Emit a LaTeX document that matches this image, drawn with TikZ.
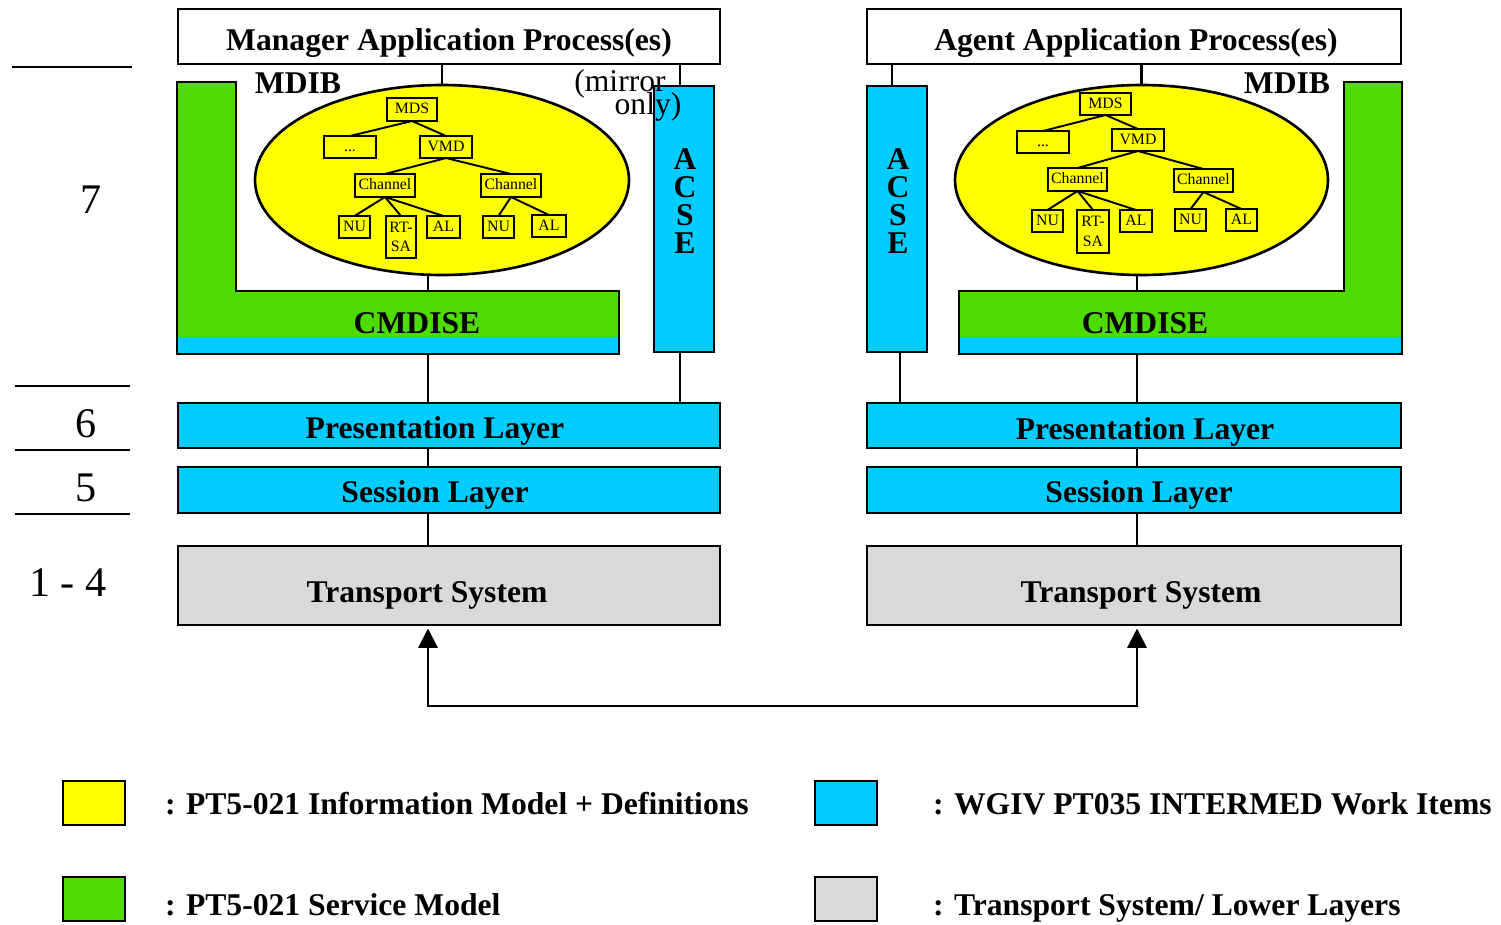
\documentclass[tikz,border=0pt]{standalone}
\usepackage{fontspec}
\setmainfont{Liberation Serif}
\usepackage{tikz}
\usetikzlibrary{shapes.geometric,arrows.meta}
\definecolor{layercyan}{HTML}{00CCFF}
\definecolor{mdibyellow}{HTML}{FFFF00}
\definecolor{svcgreen}{HTML}{4DDB00}
\definecolor{transgray}{HTML}{D9D9D9}

\begin{document}
\begin{tikzpicture}[x=0.02cm, y=-0.02cm,
  every node/.style={inner sep=0pt, outer sep=0pt},
  bw/.style={minimum width=#1*0.02cm}, bh/.style={minimum height=#1*0.02cm},
  bold18/.style={font=\fontsize{18}{16}\selectfont\bfseries},
  big/.style={bold18, text height=12pt, text depth=0pt},
  layer/.style={draw=black, line width=1.2pt},
  obj/.style={draw=black, line width=1.1pt, fill=mdibyellow, font=\fontsize{9}{11}\selectfont,
    text height=6.5pt, text depth=1.5pt},
  mdib/.style={ellipse, draw=black, line width=1.5pt, fill=mdibyellow},
  wire/.style={line width=1.2pt},
  branch/.style={line width=1.1pt},
  numlbl/.style={font=\fontsize{24}{24}\selectfont}]
  \useasboundingbox (0,0) rectangle (1501,924);

  % layer numbers
  \draw[line width=1.2pt] (12,67) -- (132,67);
  \draw[line width=1.2pt] (15,386) -- (130,386);
  \draw[line width=1.2pt] (15,450) -- (130,450);
  \draw[line width=1.2pt] (15,514) -- (130,514);
  \node[numlbl] (lay7) at (91,200) {7};
  \node[numlbl] (lay6) at (86,424) {6};
  \node[numlbl] (lay5) at (86,488) {5};
  \node[numlbl] (lay14) at (68,583) {1 - 4};

  % manager side
  \node[layer, bw=542, bh=55] (mgr) at (449,36.5) {};
  \node[big] (mgrtxt) at (449,40) {Manager Application Process(es)};
  \fill[svcgreen] (177,82) -- (236,82) -- (236,291) -- (619,291) -- (619,354) -- (177,354) -- cycle;
  \fill[layercyan] (177,337) rectangle (619,354);
  \draw[line width=1.3pt] (177,82) -- (236,82) -- (236,291) -- (619,291) -- (619,354) -- (177,354) -- cycle;
  \coordinate (cmdLtop) at (428,291);
  \coordinate (cmdLbot) at (428,354);
  \node[big] (cmdL) at (417,323) {CMDISE};
  \node[big] (mdibL) at (298,83) {MDIB};
  \node[mdib, bw=374, bh=190] (ellL) at (442,180) {};
  \node[layer, fill=layercyan, bw=60, bh=266] (acseL) at (684,219) {};
  \node[bold18, align=center] (acseLtxt) at (685,201) {A\\C\\S\\E};
  \node[font=\fontsize{18}{16}\selectfont] (mirL1) at (620,84) {(mirror};
  \node[font=\fontsize{18}{16}\selectfont] (mirL2) at (648,107) {only)};

  \node[obj, bw=50, bh=23] (mdsL) at (412,109.5) {MDS};
  \node[obj, bw=52, bh=22] (dotsL) at (350,147) {...};
  \node[obj, bw=52, bh=22] (vmdL) at (446,147) {VMD};
  \node[obj, bw=60, bh=23] (chL1) at (385,185.5) {Channel};
  \node[obj, bw=60, bh=23] (chL2) at (511,185.5) {Channel};
  \node[obj, bw=31, bh=22] (nuL1) at (354.5,227) {NU};
  \node[obj, bw=30, bh=42, align=center, text height=, text depth=] (rtL) at (401,237) {RT-\\SA};
  \node[obj, bw=33, bh=22] (alL1) at (443.5,227) {AL};
  \node[obj, bw=31, bh=22] (nuL2) at (498.5,227) {NU};
  \node[obj, bw=34, bh=22] (alL2) at (549,226) {AL};
  \draw[branch] (mdsL.south) -- (dotsL.north);
  \draw[branch] (mdsL.south) -- (vmdL.north);
  \draw[branch] (vmdL.south) -- (chL1.north);
  \draw[branch] (vmdL.south) -- (chL2.north);
  \draw[branch] (chL1.south) -- (nuL1.north);
  \draw[branch] (chL1.south) -- (rtL.north);
  \draw[branch] (chL1.south) -- (alL1.north);
  \draw[branch] (chL2.south) -- (nuL2.north);
  \draw[branch] (chL2.south) -- (alL2.north);

  \node[layer, fill=layercyan, bw=542, bh=45] (presL) at (449,425.5) {};
  \node[big] (presLtxt) at (435,428) {Presentation Layer};
  \node[layer, fill=layercyan, bw=542, bh=46] (sessL) at (449,490) {};
  \node[big] (sessLtxt) at (435,492) {Session Layer};
  \node[layer, fill=transgray, bw=542, bh=79] (transL) at (449,585.5) {};
  \node[big] (transLtxt) at (427,592) {Transport System};

  \draw[wire] (ellL.north |- mgr.south) -- (ellL.north);
  \draw[wire] ([xshift=-2.3pt]acseL.north |- mgr.south) -- ([xshift=-2.3pt]acseL.north);
  \draw[wire] (ellL.south -| cmdLtop) -- (cmdLtop);
  \draw[wire] (cmdLbot) -- (cmdLbot |- presL.north);
  \draw[wire] ([xshift=-2.3pt]acseL.south) -- ([xshift=-2.3pt]acseL.south |- presL.north);
  \draw[wire] (cmdLbot |- presL.south) -- (cmdLbot |- sessL.north);
  \draw[wire] (cmdLbot |- sessL.south) -- (cmdLbot |- transL.north);

  % agent side
  \node[layer, bw=534, bh=55] (agt) at (1134,36.5) {};
  \node[big] (agttxt) at (1136,40) {Agent Application Process(es)};
  \fill[svcgreen] (1344,82) -- (1402,82) -- (1402,354) -- (959,354) -- (959,291) -- (1344,291) -- cycle;
  \fill[layercyan] (959,337) rectangle (1402,354);
  \draw[line width=1.3pt] (1344,82) -- (1402,82) -- (1402,354) -- (959,354) -- (959,291) -- (1344,291) -- cycle;
  \coordinate (cmdRtop) at (1137,291);
  \coordinate (cmdRbot) at (1137,354);
  \node[big] (cmdR) at (1145,323) {CMDISE};
  \node[big] (mdibR) at (1287,83) {MDIB};
  \node[mdib, bw=373, bh=190] (ellR) at (1141.5,180) {};
  \node[layer, fill=layercyan, bw=60, bh=266] (acseR) at (897,219) {};
  \node[bold18, align=center] (acseRtxt) at (898,201) {A\\C\\S\\E};

  \node[obj, bw=51, bh=22] (mdsR) at (1105.5,104) {MDS};
  \node[obj, bw=52, bh=22] (dotsR) at (1043,142) {...};
  \node[obj, bw=52, bh=22] (vmdR) at (1138,140) {VMD};
  \node[obj, bw=59, bh=23] (chR1) at (1077.5,179.5) {Channel};
  \node[obj, bw=59, bh=23] (chR2) at (1203.5,180.5) {Channel};
  \node[obj, bw=31, bh=22] (nuR1) at (1047.5,221) {NU};
  \node[obj, bw=32, bh=43, align=center, text height=, text depth=] (rtR) at (1093,231.5) {RT-\\SA};
  \node[obj, bw=32, bh=22] (alR1) at (1136,221) {AL};
  \node[obj, bw=31, bh=22] (nuR2) at (1190.5,220) {NU};
  \node[obj, bw=31, bh=22] (alR2) at (1241.5,220) {AL};
  \draw[branch] (mdsR.south) -- (dotsR.north);
  \draw[branch] (mdsR.south) -- (vmdR.north);
  \draw[branch] (vmdR.south) -- (chR1.north);
  \draw[branch] (vmdR.south) -- (chR2.north);
  \draw[branch] (chR1.south) -- (nuR1.north);
  \draw[branch] (chR1.south) -- (rtR.north);
  \draw[branch] (chR1.south) -- (alR1.north);
  \draw[branch] (chR2.south) -- (nuR2.north);
  \draw[branch] (chR2.south) -- (alR2.north);

  \node[layer, fill=layercyan, bw=534, bh=45] (presR) at (1134,425.5) {};
  \node[big] (presRtxt) at (1145,429) {Presentation Layer};
  \node[layer, fill=layercyan, bw=534, bh=46] (sessR) at (1134,490) {};
  \node[big] (sessRtxt) at (1139,492) {Session Layer};
  \node[layer, fill=transgray, bw=534, bh=79] (transR) at (1134,585.5) {};
  \node[big] (transRtxt) at (1141,592) {Transport System};

  \draw[wire] (ellR.north |- agt.south) -- (ellR.north);
  \draw[wire] ([xshift=-2.8pt]acseR.north |- agt.south) -- ([xshift=-2.8pt]acseR.north);
  \draw[wire] (ellR.south -| cmdRtop) -- (cmdRtop);
  \draw[wire] (cmdRbot) -- (cmdRbot |- presR.north);
  \draw[wire] ([xshift=1.7pt]acseR.south) -- ([xshift=1.7pt]acseR.south |- presR.north);
  \draw[wire] (cmdRbot |- presR.south) -- (cmdRbot |- sessR.north);
  \draw[wire] (cmdRbot |- sessR.south) -- (cmdRbot |- transR.north);

  % transport link
  \coordinate (busL) at (428,706);
  \coordinate (busR) at (1137,706);
  \draw[wire, {Triangle[length=11pt,width=11pt]}-{Triangle[length=11pt,width=11pt]}]
    ([yshift=-2pt]busL |- transL.south) -- (busL) -- (busR) -- ([yshift=-2pt]busR |- transR.south);

  % legend
  \node[layer, fill=mdibyellow, bw=62, bh=44] (keyInfo) at (94,803) {};
  \node[big, anchor=west] (keyInfoTxt) at (165,804) {: PT5-021 Information Model + Definitions};
  \node[layer, fill=layercyan, bw=62, bh=44] (keyWg) at (846,803) {};
  \node[big, anchor=west] (keyWgTxt) at (933,804) {: WGIV PT035 INTERMED Work Items};
  \node[layer, fill=svcgreen, bw=62, bh=44] (keySvc) at (94,899) {};
  \node[big, anchor=west] (keySvcTxt) at (165,905) {: PT5-021 Service Model};
  \node[layer, fill=transgray, bw=62, bh=44] (keyTr) at (846,899) {};
  \node[big, anchor=west] (keyTrTxt) at (933,905) {: Transport System/ Lower Layers};
\end{tikzpicture}
\end{document}
